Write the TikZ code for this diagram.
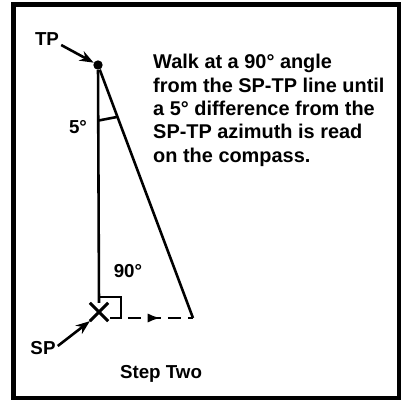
\documentclass[tikz,border=0pt]{standalone}
\usepackage{fontspec}
\setmainfont{Liberation Sans}
\usetikzlibrary{positioning, arrows.meta, shapes.misc, calc, decorations.markings}

\begin{document}
\begin{tikzpicture}[
        x=0.03cm, y=-0.03cm,
        frame/.style={draw, line width=3.5pt},
        leg/.style={line width=2.2pt},
        lbl/.style={font=\bfseries\fontsize{16}{19}\selectfont, inner sep=0pt},
        pointer/.style={-{Stealth[length=12pt, width=9pt]}, line width=2.2pt},
        walk/.style={line width=2.2pt, dash pattern=on 11pt off 6pt,
            postaction={decorate},
            decoration={markings, mark=at position 0.5 with {\arrow{Latex[length=11pt, width=8pt]}}}}
    ]
    \useasboundingbox (0,0) rectangle (405,407);
    \draw[frame] (13.5,4.5) rectangle (399,398);

    % points of the sight line
    \node[circle, fill, minimum size=8pt, inner sep=0pt] (tp) at (98,65) {};
    \node[cross out, draw, line width=2.6pt, minimum size=13pt, inner sep=0pt] (sp) at (99,312) {};
    \coordinate (stop) at (193,318);

    % labels
    \node[lbl] (tplabel) at (47,39) {TP};
    \node[lbl] (splabel) at (43,348) {SP};
    \node[lbl] (deg5) at (78,127) {5°};
    \node[lbl] (deg90) at (128,271) {90°};
    \node[lbl, anchor=north west, align=left, font=\bfseries\fontsize{17}{20}\selectfont] (note) at (153,54)
        {Walk at a 90° angle\\from the SP-TP line until\\a 5° difference from the\\SP-TP azimuth is read\\on the compass.};
    \node[lbl] (steplabel) at (161,374) {Step Two};

    % lines
    \draw[leg] (tp) -- (sp.north);
    \draw[leg] (tp) -- (stop);
    \draw[leg] ($(tp)!0.225!(sp)$) -- ($(tp)!0.205!(stop)$);
    \draw[leg] ($(sp)+(0,-15)$) -| ($(sp)+(22,6)$) -- ($(sp)+(11,6)$);
    \draw[walk] ($(sp)+(29,6)$) -- (stop);

    % pointers
    \draw[pointer] (tplabel.east) ++(2,6) -- (tp);
    \draw[pointer] (splabel.east) ++(2,-2) -- (sp.south west);
\end{tikzpicture}
\end{document}
